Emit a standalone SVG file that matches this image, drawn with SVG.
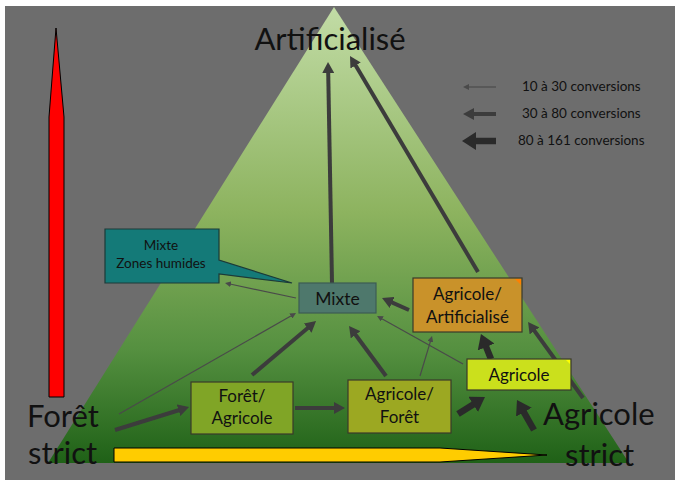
<svg xmlns="http://www.w3.org/2000/svg" width="675" height="480" viewBox="0 0 675 480">
<defs>
<linearGradient id="tri" x1="0" y1="0" x2="0" y2="1">
<stop offset="0" stop-color="#c2dca6"/>
<stop offset="0.45" stop-color="#8db35f"/>
<stop offset="0.75" stop-color="#559040"/>
<stop offset="1" stop-color="#1f6117"/>
</linearGradient>
<marker id="hThin" markerUnits="userSpaceOnUse" viewBox="0 -3 6 6" refX="1" refY="0" markerWidth="6" markerHeight="6" orient="auto"><path d="M0,-3 L6,0 L0,3 z" fill="#4a4a4a"/></marker>
<marker id="hMed" markerUnits="userSpaceOnUse" viewBox="0 -6 11 12" refX="1" refY="0" markerWidth="11" markerHeight="12" orient="auto"><path d="M0,-6 L11,0 L0,6 z" fill="#3c3c3c"/></marker>
<marker id="hThick" markerUnits="userSpaceOnUse" viewBox="0 -9 14 18" refX="1" refY="0" markerWidth="14" markerHeight="18" orient="auto"><path d="M0,-9 L14,0 L0,9 z" fill="#2a2a2a"/></marker>
</defs>
<style>
.t{font-family:Lato,"Open Sans","Liberation Sans",sans-serif;fill:#111}
.big{font-size:31px}
.nd{font-size:17px;text-anchor:middle}
.lg{font-size:13.5px}
.box{stroke:#3a3a2a;stroke-width:1.2}
.thin{stroke:#4a4a4a;stroke-width:1.2;fill:none;marker-end:url(#hThin)}
.med{stroke:#3c3c3c;stroke-width:4;fill:none;marker-end:url(#hMed)}
.thick{stroke:#2a2a2a;stroke-width:6.5;fill:none;marker-end:url(#hThick)}
</style>
<rect x="0" y="0" width="675" height="480" fill="#ffffff"/>
<rect x="5" y="6" width="670" height="474" fill="#6d6d6d"/>
<polygon points="334,7 629,463 48,463" fill="url(#tri)"/>
<polygon points="56,28 64,117 64,397 49,397 49,117" fill="#ff0000" stroke="#000" stroke-width="1"/>
<polygon points="114,448 440,448 547,455 440,462 114,462" fill="#ffcc00" stroke="#000" stroke-width="1"/>
<text class="t" x="330" y="50" font-size="31" text-anchor="middle">Artificialisé</text>
<g id="foret-strict"><text class="t big" x="27" y="427">Forêt</text><text class="t big" x="28" y="464">strict</text></g>
<g id="agricole-strict"><text class="t big" x="543" y="425">Agricole</text><text class="t big" x="565" y="466">strict</text></g>
<g id="legend">
<line x1="496" y1="87" x2="468" y2="87" class="thin" stroke="#555"/>
<line x1="496" y1="114" x2="473" y2="114" class="med"/>
<line x1="496" y1="141" x2="475" y2="141" class="thick"/>
<text class="t lg" x="522" y="91">10 à 30 conversions</text>
<text class="t lg" x="522" y="118">30 à 80 conversions</text>
<text class="t lg" x="518" y="145">80 à 161 conversions</text>
</g>
<g id="connectors">
<line x1="332" y1="283" x2="328.2" y2="72" class="med"/>
<line x1="478" y1="272" x2="355.1" y2="64.6" class="med"/>
<line x1="296" y1="298" x2="229.9" y2="284" class="thin"/>
<line x1="409" y1="310" x2="391.2" y2="302.1" class="med"/>
<line x1="119" y1="414" x2="291.7" y2="315.5" class="thin"/>
<line x1="115" y1="430" x2="179.5" y2="410" class="med"/>
<line x1="252" y1="375" x2="308.4" y2="327.5" class="med"/>
<line x1="295" y1="408" x2="335" y2="408" class="med"/>
<line x1="386" y1="376" x2="355" y2="334" class="med"/>
<line x1="420" y1="376" x2="430.6" y2="340.8" class="thin"/>
<line x1="463" y1="364" x2="381.4" y2="318.4" class="thin"/>
<line x1="491" y1="359" x2="485.8" y2="346.1" class="thick"/>
<line x1="458" y1="414" x2="474" y2="403.9" class="thick"/>
<line x1="534" y1="430" x2="523.4" y2="411.3" class="thick"/>
<line x1="583" y1="398" x2="533.9" y2="330.1" class="med"/>
</g>
<g id="mixte-zh">
<path d="M105,229 H219 V260 L292,283 L219,274 V283 H105 Z" fill="#147a78" stroke="#1c3a38" stroke-width="1.2"/>
<text class="t" x="161" y="250" font-size="13.5" text-anchor="middle">Mixte</text>
<text class="t" x="161" y="268" font-size="13.5" text-anchor="middle">Zones humides</text>
</g>
<g id="mixte">
<rect x="299" y="283" width="77" height="30" fill="#4e786c" stroke="#3c5c54" stroke-width="1.2"/>
<text class="t" x="337.5" y="304.5" font-size="17.5" text-anchor="middle">Mixte</text>
</g>
<g id="agri-artif">
<rect x="413" y="278" width="109" height="54" fill="#c9922a" class="box"/>
<polygon points="515,279 521,279 521,285" fill="#ff8000"/>
<text class="t nd" x="467.5" y="299.5" font-size="17.5">Agricole/</text>
<text class="t nd" x="467.5" y="322.5" font-size="17.5">Artificialisé</text>
</g>
<g id="agricole">
<rect x="467" y="359" width="104" height="31" fill="#cbe01c" class="box"/>
<polygon points="566,360 570,360 570,364" fill="#ffff00"/>
<text class="t nd" x="519" y="381">Agricole</text>
</g>
<g id="foret-agri">
<rect x="191" y="382" width="102" height="52" fill="#80a526" class="box" stroke="#5a7a20"/>
<text class="t nd" x="242" y="402">Forêt/</text>
<text class="t nd" x="242" y="424">Agricole</text>
</g>
<g id="agri-foret">
<rect x="348" y="380" width="103" height="53" fill="#9ca822" class="box" stroke="#6a7a20"/>
<text class="t nd" x="399.5" y="400">Agricole/</text>
<text class="t nd" x="399.5" y="423">Forêt</text>
</g>
</svg>
